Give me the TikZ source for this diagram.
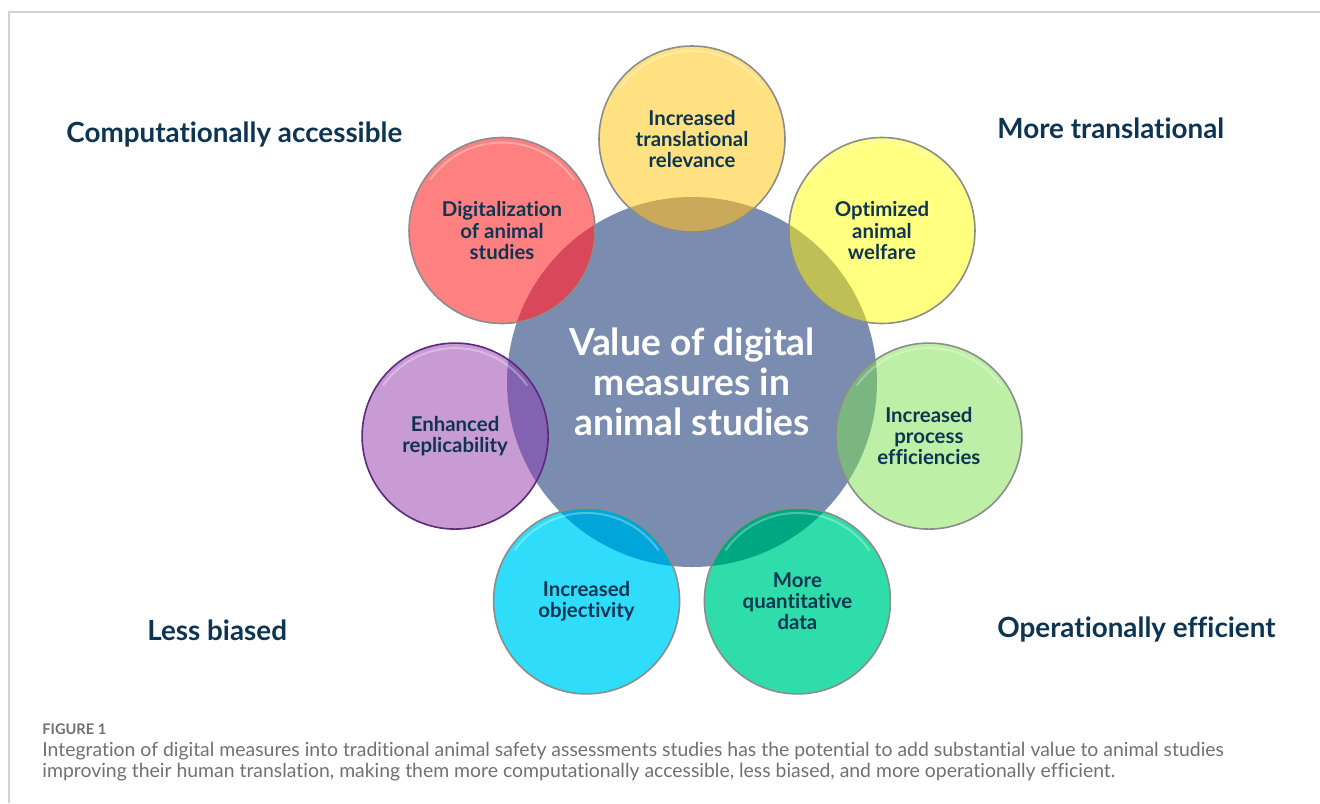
\documentclass[tikz,border=0pt]{standalone}
\usepackage{fontspec}
\setmainfont{Lato}[Ligatures=NoCommon]
\usetikzlibrary{calc}
\definecolor{navy}{HTML}{0D3552}
\definecolor{hub}{HTML}{7A8DB0}
\definecolor{frame}{HTML}{D2D2D2}
\definecolor{captext}{HTML}{707070}
% petal fills and the darker lens where they cross the hub
\definecolor{gold}{HTML}{FFE181}   \definecolor{goldlens}{HTML}{C9A95A}
\definecolor{rose}{HTML}{FF8080}   \definecolor{roselens}{HTML}{D9475A}
\definecolor{lilac}{HTML}{C99BD5}  \definecolor{lilaclens}{HTML}{8462B2}
\definecolor{sky}{HTML}{2FDCFA}    \definecolor{skylens}{HTML}{00A6D9}
\definecolor{mint}{HTML}{2FDDAA}   \definecolor{mintlens}{HTML}{00A783}
\definecolor{lime}{HTML}{BDEFA6}   \definecolor{limelens}{HTML}{7BB57F}
\definecolor{lemon}{HTML}{FFFF80}  \definecolor{lemonlens}{HTML}{BEBF55}
\definecolor{rimgray}{HTML}{8C8C8C}
\definecolor{rimpurple}{HTML}{5B2A78}
\tikzset{
  petal/.style={circle, minimum size=93pt, inner sep=0pt, align=center,
    line width=0.8pt, text=navy, font=\bfseries\fontsize{10.2}{10.6}\selectfont},
  corner/.style={anchor=base west, inner sep=0pt, text=navy, font=\bfseries\fontsize{13.9}{16}\selectfont},
}
\begin{document}
\begin{tikzpicture}[x=0.5pt,y=-0.5pt]
\useasboundingbox (0,0) rectangle (1320,803);
\draw[color = frame, line width = 1pt] (1320,12) -- (9,12) -- (9,803);

\node[circle, fill = hub, minimum size = 185pt, inner sep = 0pt, align = center,
  text = white, font = \bfseries\fontsize{18.6}{20}\selectfont] (hub) at (692,382)
  {Value of digital\\measures in\\animal studies};

\foreach \i/\c/\rim/\txt in {0/gold/rimgray/{Increased\\translational\\relevance},
    1/rose/rimgray/{Digitalization\\of animal\\studies},
    2/lilac/rimpurple/{Enhanced\\replicability},
    3/sky/rimgray/{Increased\\objectivity},
    4/mint/rimgray/{More\\quantitative\\data},
    5/lime/rimgray/{Increased\\process\\efficiencies},
    6/lemon/rimgray/{Optimized\\animal\\welfare}}
{
  \pgfmathsetmacro{\a}{90+\i*360/7}
  \coordinate (c\i) at ($(hub.center)+(-\a:243)$);
  \fill[\c] (c\i) circle (46.5pt);
  \begin{scope}
    \clip (hub.center) circle (92.5pt);
    \fill[\c lens] (c\i) circle (46.5pt);
  \end{scope}
  \draw[white, opacity = 0.3, line width = 1pt] (c\i) ++(145:44pt) arc[start angle = 145, end angle = 35, radius = 44pt];
  \node[petal, draw = \rim] (p\i) at (c\i) {\txt};
}

\node[corner] (comp) at (66,142) {Computationally accessible};
\node[corner] (transl) at (997,138) {More translational};
\node[corner] (bias) at (147,640) {Less biased};
\node[corner] (oper) at (997,637) {Operationally efficient};

\node[anchor = base west, inner sep = 0pt, text = captext, font = \bfseries\fontsize{7.3}{8}\selectfont] (fig) at (42,734) {FIGURE 1};
\node[anchor = base west, inner sep = 0pt, align = left, text = captext, font = \fontsize{9.7}{10.5}\selectfont] (caption) at (42,777)
  {Integration of digital measures into traditional animal safety assessments studies has the potential to add substantial value to animal studies\\
   improving their human translation, making them more computationally accessible, less biased, and more operationally efficient.};
\end{tikzpicture}
\end{document}
